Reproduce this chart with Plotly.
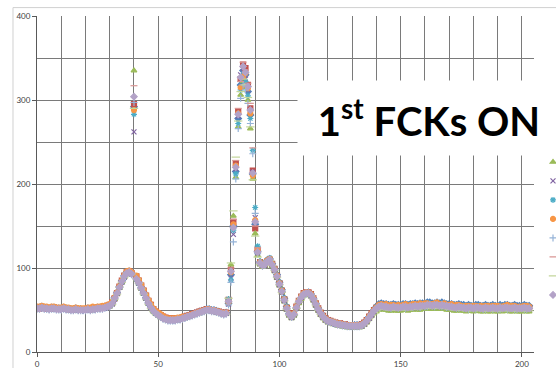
import plotly.graph_objects as go

# Sample index (one reading per unit)
x_vals = list(range(204))

run_01 = [53,53,54,53,52,52,53,53,52,52,
          52,53,52,51,51,51,52,51,51,50,
          51,52,51,52,52,53,53,53,54,55,
          56,59,65,71,78,85,91,95,96,94,
          292,88,83,77,71,65,59,54,50,47,
          45,43,41,40,39,38,38,39,39,40,
          41,42,43,44,45,46,47,48,49,50,
          51,51,50,50,49,48,47,46,47,58,
          92,150,215,278,318,335,330,310,282,212,
          152,120,107,104,105,109,111,105,99,92,
          83,74,64,54,46,42,44,52,59,64,
          68,70,71,69,64,58,52,47,43,40,
          38,37,35,34,34,33,33,32,32,31,
          31,32,32,32,33,35,38,42,46,50,
          54,57,58,57,57,56,56,57,56,56,
          56,57,57,56,57,57,58,57,58,58,
          58,59,59,58,58,59,58,59,58,57,
          57,57,56,56,57,56,56,55,56,55,
          55,56,56,55,55,56,55,55,56,55,
          55,56,55,56,56,55,55,56,55,55,
          55,56,55,55]

run_02 = [53,52,53,53,52,52,52,53,52,52,
          52,52,52,51,51,50,51,51,50,51,
          51,52,51,52,52,53,53,53,54,55,
          56,59,64,70,78,85,91,95,96,94,
          295,90,85,79,73,67,61,56,51,48,
          46,44,42,41,40,40,40,39,40,40,
          41,42,43,44,45,46,47,48,49,50,
          51,50,50,49,48,48,47,46,47,62,
          98,155,225,286,325,342,338,318,290,216,
          147,122,107,104,104,108,110,105,99,91,
          82,73,63,53,46,43,46,54,61,66,
          70,71,71,69,64,58,52,47,43,40,
          38,37,36,35,34,34,33,33,32,32,
          32,32,32,32,33,35,38,42,46,50,
          53,55,56,55,55,54,54,55,54,54,
          54,55,55,54,55,55,56,55,56,56,
          56,57,57,56,57,57,56,57,56,56,
          55,55,54,54,55,54,54,53,54,54,
          53,54,54,53,53,54,53,53,54,53,
          53,54,53,54,54,53,53,54,53,53,
          53,54,53,53]

run_03 = [51,51,52,51,51,50,51,51,50,50,
          50,51,50,50,49,49,50,49,49,49,
          49,50,49,50,50,51,51,51,52,53,
          54,57,63,69,76,83,89,93,94,92,
          335,86,81,75,69,63,57,52,48,45,
          43,41,39,38,37,37,37,37,38,38,
          39,40,41,42,43,44,45,46,47,48,
          49,49,48,48,47,46,45,44,45,60,
          104,162,208,268,306,322,315,300,266,206,
          141,115,104,101,102,106,108,102,96,88,
          79,70,60,50,43,40,43,51,58,63,
          67,68,68,66,61,55,49,44,40,37,
          35,34,33,32,31,31,30,30,29,29,
          29,29,29,29,30,32,35,39,43,46,
          48,50,51,50,50,49,49,50,49,49,
          49,50,50,49,50,50,51,50,50,51,
          51,51,52,51,51,52,51,51,51,50,
          50,50,49,49,50,49,49,48,49,49,
          48,49,49,48,48,49,48,48,49,48,
          48,49,48,49,49,48,48,49,48,48,
          48,49,48,48]

run_04 = [52,51,52,52,51,51,52,51,51,50,
          51,51,51,50,50,50,50,50,49,50,
          50,50,50,50,51,51,52,52,52,53,
          55,57,63,70,77,83,89,94,95,93,
          262,87,82,76,70,64,58,53,49,46,
          44,42,40,39,38,38,37,38,38,39,
          40,41,42,43,44,45,46,47,48,49,
          49,50,49,48,48,47,46,45,46,57,
          88,140,218,281,330,338,325,312,287,214,
          160,118,105,103,103,107,110,104,97,89,
          80,71,61,51,44,41,44,52,60,65,
          69,70,69,67,62,56,50,45,41,38,
          36,35,34,33,33,32,32,31,31,30,
          30,30,30,31,31,33,36,40,44,48,
          51,53,54,53,53,52,52,53,52,52,
          52,53,53,52,53,53,54,53,54,54,
          54,55,55,54,55,55,54,55,54,54,
          53,53,52,52,53,52,52,51,52,52,
          51,52,52,51,51,52,51,51,52,51,
          51,52,51,52,52,51,51,52,51,51,
          51,52,51,51]

run_05 = [52,53,53,52,52,52,52,52,51,52,
          51,52,51,51,51,50,51,50,50,50,
          50,51,51,51,51,52,52,53,53,54,
          55,58,64,70,77,84,90,95,96,93,
          283,87,82,76,70,64,58,53,49,46,
          44,42,40,39,38,38,38,38,39,39,
          40,41,42,43,44,45,46,47,48,49,
          50,50,49,49,48,47,46,45,46,63,
          86,145,212,272,312,330,322,305,278,240,
          172,126,108,105,106,110,112,106,100,92,
          83,74,64,54,46,43,46,54,61,66,
          70,71,71,69,64,58,52,47,43,40,
          38,37,36,35,34,34,33,33,32,32,
          32,32,32,32,33,35,38,42,46,50,
          54,56,57,56,56,55,55,56,55,55,
          55,56,56,55,56,56,57,56,57,57,
          57,58,58,57,58,58,57,58,57,57,
          56,56,55,55,56,55,55,54,55,55,
          54,55,55,54,54,55,54,54,55,54,
          54,55,54,55,55,54,54,55,54,54,
          54,55,54,54]

run_06 = [54,54,55,54,54,53,54,54,53,53,
          53,54,53,53,52,52,53,52,52,52,
          52,53,53,54,53,54,54,55,55,56,
          57,60,65,71,78,85,91,96,97,95,
          288,91,86,80,74,68,62,57,52,49,
          47,45,43,41,40,40,40,40,41,41,
          42,42,43,44,45,46,47,48,49,50,
          51,51,50,50,49,48,47,46,47,59,
          95,152,222,284,315,328,332,314,284,210,
          157,121,107,104,105,109,111,105,99,91,
          82,73,63,53,46,43,46,54,61,66,
          70,71,71,69,64,58,52,47,43,40,
          38,37,36,35,34,34,33,33,32,32,
          32,32,32,32,33,35,38,42,46,50,
          53,56,57,56,57,55,56,56,55,56,
          55,56,57,55,56,57,57,56,58,57,
          58,58,57,57,58,59,57,57,58,56,
          56,57,55,56,56,55,54,55,55,54,
          55,55,54,55,54,55,55,54,55,55,
          55,54,54,55,56,54,55,55,53,54,
          54,55,55,54]

run_07 = [51,51,52,51,51,50,51,51,50,50,
          50,51,50,50,49,49,50,49,49,49,
          49,50,49,50,50,51,51,51,52,53,
          54,57,63,69,76,83,89,93,94,92,
          297,86,81,75,69,63,57,52,48,45,
          43,41,39,38,37,37,37,37,38,38,
          39,40,41,42,43,44,45,46,47,48,
          49,49,48,48,47,46,45,44,45,56,
          83,131,206,266,302,318,312,296,272,236,
          165,117,105,102,103,107,109,103,97,89,
          80,71,61,51,44,41,44,52,59,64,
          68,69,69,67,62,56,50,45,41,38,
          36,35,34,33,32,32,31,31,30,30,
          30,30,30,30,31,33,36,40,44,48,
          52,54,54,54,53,53,52,53,53,52,
          53,53,52,53,54,53,54,54,53,55,
          54,54,55,55,54,55,55,54,55,53,
          54,53,53,52,52,53,52,52,51,52,
          52,51,53,52,51,51,52,52,51,52,
          51,51,52,52,51,52,52,51,51,52,
          52,51,51,52]

run_08 = [52,52,52,53,52,51,51,52,52,51,
          51,51,52,51,50,51,50,50,51,50,
          50,50,51,51,52,52,51,53,53,54,
          56,58,64,70,77,84,90,94,95,94,
          317,88,83,76,70,64,58,53,49,46,
          44,42,40,39,38,38,38,38,39,39,
          40,41,42,43,44,45,46,47,48,49,
          50,50,49,49,48,47,46,45,46,61,
          100,158,228,290,322,345,336,320,296,243,
          150,124,106,103,104,108,110,104,98,90,
          81,72,62,52,45,42,45,53,60,65,
          69,70,70,68,63,57,51,46,42,39,
          37,36,35,34,33,33,32,32,31,31,
          31,31,31,31,32,34,37,41,45,49,
          52,54,55,54,54,53,53,54,53,53,
          53,54,54,53,54,54,55,54,55,55,
          55,56,56,55,56,56,55,56,55,55,
          54,54,53,53,54,53,53,52,53,53,
          52,53,53,52,52,53,52,52,53,52,
          52,53,52,53,53,52,52,53,52,52,
          52,53,52,52]

run_09 = [51,52,52,52,51,51,52,51,51,51,
          50,51,51,50,50,49,50,50,49,50,
          49,50,50,50,51,51,51,52,52,53,
          55,57,63,69,77,83,89,94,95,93,
          290,87,82,75,69,63,57,52,48,45,
          43,41,39,38,37,37,37,37,38,38,
          39,40,41,42,43,44,45,46,47,48,
          49,49,48,48,47,46,45,44,45,64,
          106,168,232,275,310,325,318,303,268,205,
          138,113,104,102,103,107,109,103,97,89,
          80,71,61,51,44,41,44,52,59,64,
          68,69,69,67,62,56,50,45,41,38,
          36,35,34,33,32,32,31,31,30,30,
          30,30,30,30,31,33,36,40,44,47,
          49,51,52,51,51,50,50,51,50,50,
          50,51,51,50,51,51,52,51,52,52,
          52,53,53,52,53,53,52,53,52,52,
          51,51,50,50,51,50,50,49,50,50,
          49,50,50,49,49,50,49,49,50,49,
          49,50,49,50,50,49,49,50,49,49,
          49,50,49,49]

run_10 = [52,52,53,52,52,51,52,52,51,51,
          51,52,51,51,50,50,51,50,50,50,
          50,51,50,51,51,52,52,52,53,54,
          55,58,64,70,77,84,90,94,95,93,
          304,87,82,76,70,64,58,53,49,46,
          44,42,40,39,38,38,38,38,39,39,
          40,41,42,43,44,45,46,47,48,49,
          50,50,49,49,48,47,46,45,46,60,
          96,148,220,283,327,340,333,316,288,213,
          155,119,106,103,104,108,110,104,98,90,
          81,72,62,52,45,42,45,53,60,65,
          69,70,70,68,63,57,51,46,42,39,
          37,36,35,34,33,33,32,32,31,31,
          31,31,31,31,32,34,37,41,45,49,
          52,54,55,54,54,53,53,54,53,53,
          53,54,54,53,54,54,55,54,55,55,
          55,56,56,55,56,56,55,56,55,55,
          54,54,53,53,54,53,53,52,53,53,
          52,53,53,52,52,53,52,52,53,52,
          52,53,52,53,53,52,52,53,52,52,
          52,53,52,52]

series_values = [run_01, run_02, run_03, run_04, run_05,
                 run_06, run_07, run_08, run_09, run_10]
series_names = ["Run 1", "Run 2", "Run 3", "Run 4", "Run 5",
                "Run 6", "Run 7", "Run 8", "Run 9", "Run 10"]
series_colors = ["#4F81BD", "#C0504D", "#9BBB59", "#8064A2", "#4BACC6",
                 "#F79646", "#95B3D7", "#D99694", "#C3D69B", "#B3A2C7"]
series_symbols = ["diamond", "square", "triangle-up", "x-thin-open", "asterisk-open",
                  "circle", "cross-thin-open", "line-ew-open", "line-ew-open", "diamond"]
series_sizes = [5, 5, 5, 5, 5, 5, 5, 5, 6, 5]

x_ticks = [0, 50, 100, 150, 200]
y_ticks = [0, 100, 200, 300, 400]

fig = go.Figure()
for vals, name, col, sym, sz in zip(series_values, series_names, series_colors,
                                    series_symbols, series_sizes):
    fig.add_trace(go.Scatter(
        x=x_vals, y=vals, name=name, mode="markers",
        marker=dict(symbol=sym, size=sz, color=col,
                    line=dict(color=col, width=1.2)),
    ))

grid_col = "#7a7a7a"
tick_font = dict(family="Lato", size=8, color="#404040")

fig.update_xaxes(
    range=[0, 205], tickvals=x_ticks, showgrid=True, gridcolor=grid_col, gridwidth=1,
    minor=dict(dtick=10, tick0=0, showgrid=True, gridcolor=grid_col, gridwidth=1),
    showline=True, linecolor="#595959", linewidth=1,
    ticks="outside", ticklen=4, tickcolor="#595959",
    tickfont=tick_font, zeroline=False,
)
fig.update_yaxes(
    range=[0, 400], tickvals=y_ticks, showgrid=True, gridcolor=grid_col, gridwidth=1,
    minor=dict(dtick=50, tick0=0, showgrid=True, gridcolor=grid_col, gridwidth=1),
    showline=True, linecolor="#595959", linewidth=1,
    ticks="outside", ticklen=4, tickcolor="#595959",
    tickfont=tick_font, zeroline=False,
)

# Light frame around the chart area
fig.add_shape(type="rect", xref="paper", yref="paper",
              x0=-0.0483, x1=1.2, y0=-0.2, y1=1.025,
              line=dict(color="#d0d0d0", width=1), fillcolor="rgba(0,0,0,0)",
              layer="below")

# Title text box
fig.add_annotation(
    xref="paper", yref="paper", x=0.523, y=0.8086, xanchor="left", yanchor="top",
    text="1<sup>st</sup> FCKs ON", showarrow=False,
    font=dict(family="Lato", size=40, color="black", weight="bold"),
    bgcolor="white", borderpad=0, width=262, height=74, align="center", valign="middle",
)

fig.update_layout(
    width=556, height=368,
    margin=dict(l=37, r=22, t=16, b=16, autoexpand=False),
    paper_bgcolor="white", plot_bgcolor="white",
    showlegend=True,
    legend=dict(x=0.998, y=0.722, xanchor="left", yanchor="top",
                font=dict(family="Lato", size=8, color="#404040"),
                bgcolor="rgba(0,0,0,0)", borderwidth=0),
)

fig.write_html("out.html")
